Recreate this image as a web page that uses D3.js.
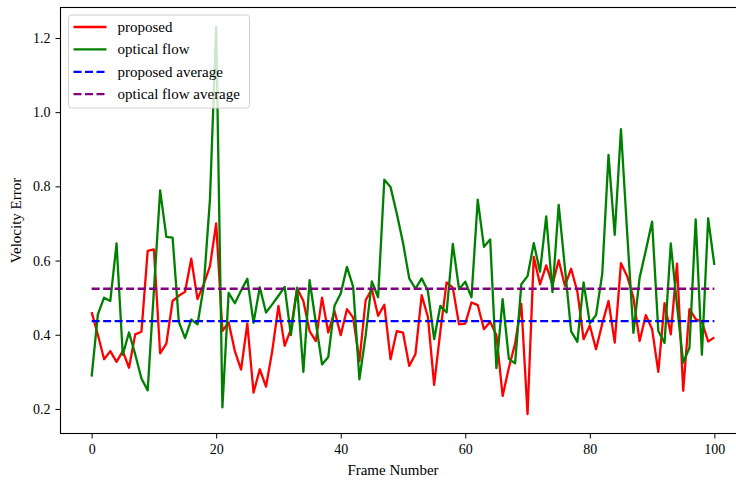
<!DOCTYPE html>
<html>
<head>
<meta charset="utf-8">
<script src="https://cdn.jsdelivr.net/npm/d3@7"></script>
<style>
  html, body { margin: 0; padding: 0; background: #fff; }
  svg { display: block; }
  text { font-family: "Liberation Serif", "Times New Roman", serif; fill: #000; }
</style>
</head>
<body>
<svg id="chart" width="736" height="482"></svg>
<script>
const frames = d3.range(0, 101);
const proposed = [0.461,0.40,0.334,0.356,0.327,0.356,0.311,0.401,0.408,0.626,
  0.630,0.350,0.376,0.491,0.505,0.516,0.605,0.496,0.536,0.585,
  0.700,0.410,0.433,0.356,0.306,0.430,0.244,0.307,0.260,0.356,
  0.478,0.370,0.415,0.525,0.491,0.410,0.383,0.500,0.406,0.464,
  0.399,0.469,0.446,0.329,0.493,0.523,0.451,0.481,0.334,0.410,
  0.406,0.316,0.348,0.507,0.448,0.265,0.41,0.541,0.527,0.428,
  0.430,0.487,0.480,0.415,0.435,0.399,0.235,0.311,0.376,0.483,
  0.186,0.610,0.536,0.587,0.535,0.601,0.532,0.578,0.516,0.388,
  0.425,0.361,0.430,0.491,0.379,0.593,0.558,0.500,0.383,0.453,
  0.415,0.300,0.485,0.401,0.592,0.249,0.469,0.442,0.435,0.382,
  0.393];
const opticalFlow = [0.287,0.455,0.500,0.491,0.646,0.346,0.406,0.347,0.282,0.250,
  0.52,0.789,0.664,0.662,0.435,0.391,0.441,0.428,0.53,0.765,
  1.230,0.204,0.513,0.485,0.519,0.551,0.432,0.528,0.46,0.482,
  0.505,0.529,0.399,0.527,0.300,0.547,0.433,0.320,0.340,0.478,
  0.511,0.583,0.529,0.280,0.398,0.544,0.501,0.818,0.798,0.727,
  0.648,0.552,0.524,0.552,0.518,0.388,0.478,0.460,0.645,0.523,
  0.543,0.501,0.764,0.637,0.657,0.310,0.496,0.335,0.323,0.536,
  0.558,0.647,0.570,0.719,0.515,0.750,0.581,0.409,0.381,0.541,
  0.431,0.453,0.565,0.885,0.669,0.954,0.675,0.405,0.554,0.628,
  0.705,0.410,0.378,0.646,0.48,0.325,0.365,0.711,0.346,0.714,
  0.588];
const proposedAverage = 0.437;
const opticalFlowAverage = 0.524;
const xTicks = [0, 20, 40, 60, 80, 100];
const yTicks = [0.2, 0.4, 0.6, 0.8, 1.0, 1.2];
const seriesNames = ["proposed", "optical flow", "proposed average", "optical flow average"];
const seriesColors = ["#ff0000", "#008000", "#0000ff", "#800080"];

const svg = d3.select("#chart");
const mLeft = 60.5, mTop = 7.5, mBottom = 433.5, mRight = 745.5;
const x = d3.scaleLinear().domain([-5, 105]).range([mLeft, mRight]);
const y = d3.scaleLinear().domain([0.1338, 1.2822]).range([mBottom, mTop]);

// axes
const xAxis = d3.axisBottom(x).tickValues(xTicks).tickFormat(d3.format("d")).tickSize(5).tickPadding(6);
const yAxis = d3.axisLeft(y).tickValues(yTicks).tickFormat(d3.format(".1f")).tickSize(5).tickPadding(5);

const gx = svg.append("g").attr("transform", `translate(0,${mBottom})`).call(xAxis);
const gy = svg.append("g").attr("transform", `translate(${mLeft},0)`).call(yAxis);
[gx, gy].forEach(g => {
  g.attr("font-family", "Liberation Serif");
  g.select(".domain").remove();
  g.selectAll(".tick line").attr("stroke", "#000").attr("stroke-width", 1);
  g.selectAll(".tick text").attr("font-size", 14);
});

// lines
const line = d3.line().x((d, i) => x(frames[i])).y(d => y(d));
svg.append("path").datum(proposed).attr("d", line)
  .attr("fill", "none").attr("stroke", seriesColors[0]).attr("stroke-width", 2.3).attr("stroke-linejoin", "round");
svg.append("path").datum(opticalFlow).attr("d", line)
  .attr("fill", "none").attr("stroke", seriesColors[1]).attr("stroke-width", 2.3).attr("stroke-linejoin", "round");

const avgLine = d3.line().x(d => x(d[0])).y(d => y(d[1]));
svg.append("path").datum([[frames[0], proposedAverage], [frames[frames.length-1], proposedAverage]]).attr("d", avgLine)
  .attr("fill", "none").attr("stroke", seriesColors[2]).attr("stroke-width", 2.3).attr("stroke-dasharray", "8,3.5");
svg.append("path").datum([[frames[0], opticalFlowAverage], [frames[frames.length-1], opticalFlowAverage]]).attr("d", avgLine)
  .attr("fill", "none").attr("stroke", seriesColors[3]).attr("stroke-width", 2.3).attr("stroke-dasharray", "8,3.5");

// spines
svg.append("rect").attr("x", mLeft).attr("y", mTop).attr("width", mRight - mLeft).attr("height", mBottom - mTop)
  .attr("fill", "none").attr("stroke", "#000").attr("stroke-width", 1.1);

// axis labels
svg.append("text").attr("x", (x(-5) + x(105)) / 2 - 10).attr("y", 475).attr("text-anchor", "middle")
  .attr("font-size", 15).text("Frame Number");
svg.append("text").attr("transform", `translate(21,${(mTop + mBottom) / 2}) rotate(-90)`).attr("text-anchor", "middle")
  .attr("font-size", 15).text("Velocity Error");

// legend
const lg = svg.append("g").attr("transform", "translate(68.5,15)");
lg.append("rect").attr("width", 181).attr("height", 93).attr("rx", 3)
  .attr("fill", "#fff").attr("fill-opacity", 0.8).attr("stroke", "#d0d0d0").attr("stroke-width", 1);
seriesNames.forEach((name, i) => {
  const yy = 12 + i * 22.4;
  lg.append("line").attr("x1", 5).attr("x2", 38).attr("y1", yy).attr("y2", yy)
    .attr("stroke", seriesColors[i]).attr("stroke-width", 2.3)
    .attr("stroke-dasharray", i >= 2 ? "8,3.5" : null);
  lg.append("text").attr("x", 49).attr("y", yy + 5).attr("font-size", 15).text(name);
});
</script>
</body>
</html>
